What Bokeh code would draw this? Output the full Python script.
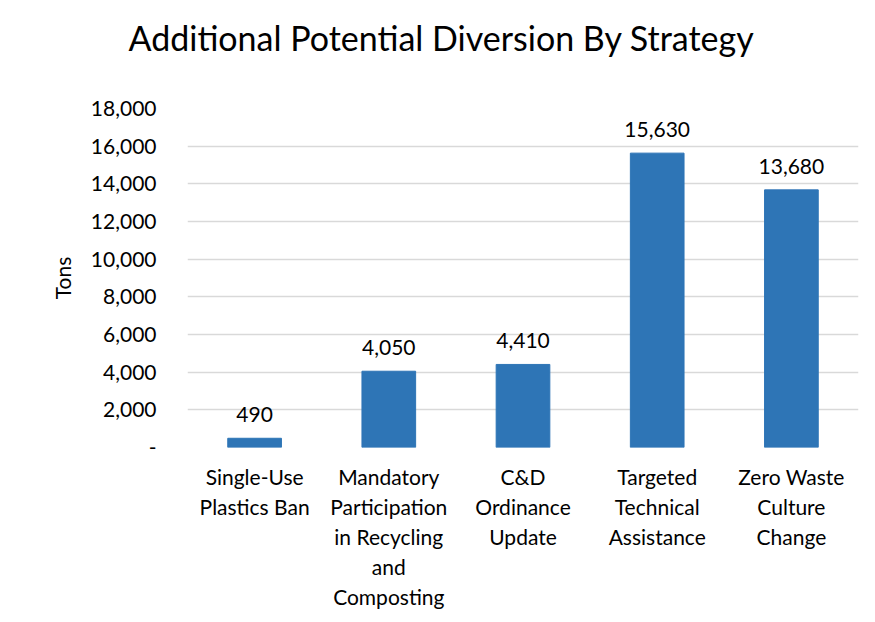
from bokeh.plotting import figure
from bokeh.models import ColumnDataSource, LabelSet, FixedTicker, Range1d, FactorRange, Title
from bokeh.core.properties import value
from bokeh.embed import file_html
from bokeh.resources import INLINE

# ---- data ----
title_text = "Additional  Potential Diversion By Strategy"
categories = [
    "Single-Use\nPlastics Ban",
    "Mandatory\nParticipation\nin Recycling\nand\nComposting",
    "C&D\nOrdinance\nUpdate",
    "Targeted\nTechnical\nAssistance",
    "Zero Waste\nCulture\nChange",
]
values = [490, 4050, 4410, 15630, 13680]
value_labels = ["490", "4,050", "4,410", "15,630", "13,680"]
y_ticks = [0, 2000, 4000, 6000, 8000, 10000, 12000, 14000, 16000, 18000]
y_tick_labels = ["-", "2,000", "4,000", "6,000", "8,000", "10,000",
                 "12,000", "14,000", "16,000", "18,000"]

FONT = "Lato"
TXT = "#000000"
W, H = 859, 614

src = ColumnDataSource(dict(cat=categories, val=values, lab=value_labels))

p = figure(
    width=W, height=H,
    x_range=FactorRange(*categories, range_padding=0),
    y_range=Range1d(0, 18000),
    output_backend="svg", toolbar_location=None,
    min_border_left=187, min_border_right=1,
    min_border_top=108, min_border_bottom=167,
)
p.outline_line_color = None
p.background_fill_color = "white"
p.border_fill_color = "white"

# spacer between frame and title, then the title itself (further out)
p.add_layout(Title(text=" ", text_font_size="10px", standoff=24), "above")
p.add_layout(Title(text=title_text, text_font=FONT, text_font_size="34px",
                   text_font_style="normal", text_color=TXT,
                   align="left", offset=-59, standoff=28), "above")

p.vbar(x="cat", top="val", width=0.4, source=src, color="#2E75B6")

p.add_layout(LabelSet(x="cat", y="val", text="lab", source=src,
                      text_align="center", text_baseline="bottom", y_offset=16,
                      text_font=value(FONT), text_font_size=value("21px"),
                      text_color=TXT))

# y axis
p.yaxis.ticker = FixedTicker(ticks=y_ticks)
p.yaxis.major_label_overrides = {t: l for t, l in zip(y_ticks, y_tick_labels)}
p.yaxis.axis_line_color = None
p.yaxis.major_tick_line_color = None
p.yaxis.minor_tick_line_color = None
p.yaxis.major_label_standoff = 25
p.yaxis.major_label_text_font = FONT
p.yaxis.major_label_text_font_size = "21px"
p.yaxis.major_label_text_color = TXT
p.yaxis.axis_label = "Tons"
p.yaxis.axis_label_text_font = FONT
p.yaxis.axis_label_text_font_size = "21px"
p.yaxis.axis_label_text_font_style = "normal"
p.yaxis.axis_label_text_color = TXT
p.yaxis.axis_label_standoff = 13

# x axis
p.xaxis.axis_line_color = None
p.xaxis.major_tick_line_color = None
p.xaxis.minor_tick_line_color = None
p.xaxis.major_label_standoff = 10
p.xaxis.major_label_text_font = FONT
p.xaxis.major_label_text_font_size = "21px"
p.xaxis.major_label_text_color = TXT
p.xaxis.major_label_text_line_height = 1.2

p.xgrid.grid_line_color = None
p.ygrid.ticker = FixedTicker(ticks=y_ticks)
p.ygrid.grid_line_color = "#d9d9d9"
p.ygrid.grid_line_width = 1.5

open("out.html", "w").write(file_html(p, INLINE))
